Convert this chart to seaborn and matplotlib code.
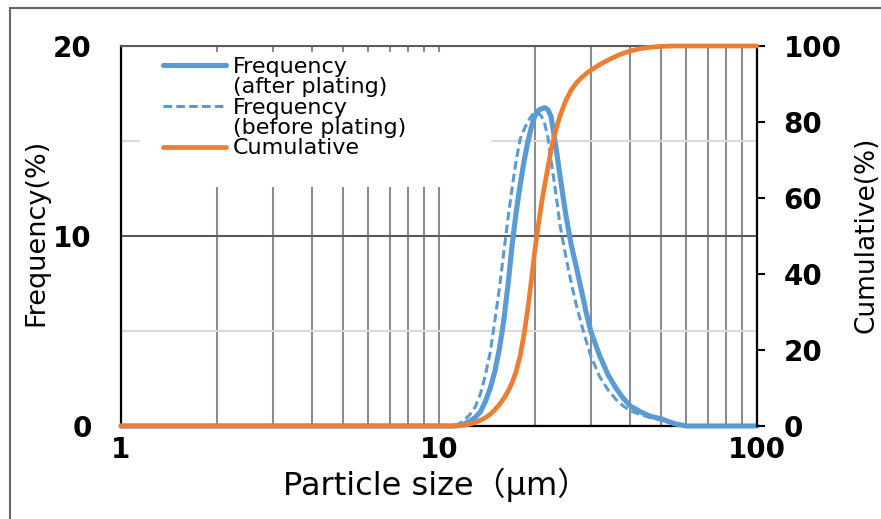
import matplotlib
matplotlib.use("Agg")
import matplotlib.pyplot as plt
import seaborn as sns
from matplotlib.lines import Line2D
from matplotlib.patches import Rectangle
from matplotlib.ticker import LogLocator, MultipleLocator, NullFormatter

# ---------------- data ----------------
particle_size_um = [1, 11, 11.5, 12, 12.5, 13, 13.5, 14, 14.5, 15, 15.5, 16, 16.5,
                    17, 17.5, 18, 18.5, 19, 19.5, 20, 20.5, 21, 21.5, 22, 22.5, 23,
                    23.5, 24, 25, 26, 27, 28, 29, 30, 32, 34, 36, 38, 40, 43, 46,
                    50, 55, 60, 100]
freq_after_plating = [0, 0, 0.02, 0.1, 0.25, 0.45, 0.75, 1.3, 2.0, 2.9, 4.1, 5.6, 7.5,
                      9.6, 11.3, 12.7, 13.9, 14.9, 15.7, 16.3, 16.6, 16.7, 16.75, 16.65,
                      16.3, 15.3, 14.3, 13.2, 11.2, 9.6, 8.4, 7.2, 6.0, 5.0, 3.7, 2.7,
                      2.0, 1.45, 1.05, 0.75, 0.52, 0.38, 0.12, 0, 0]
freq_before_plating = [0, 0, 0.1, 0.3, 0.6, 1.0, 1.7, 2.7, 3.9, 5.6, 7.3, 9.2, 11.0,
                       12.6, 14.0, 15.1, 15.6, 16.0, 16.3, 16.5, 16.5, 16.3, 15.9, 15.2,
                       14.0, 12.9, 11.8, 10.6, 9.0, 7.6, 6.4, 5.4, 4.5, 3.7, 2.6, 1.9,
                       1.4, 1.05, 0.8, 0.6, 0.45, 0.3, 0.1, 0, 0]
cumulative = [0, 0, 0.05, 0.2, 0.5, 0.9, 1.5, 2.2, 3.1, 4.3, 5.7, 7.3, 9.2, 11.5, 14.5,
              18.5, 24, 30.5, 38, 46, 52.5, 58.5, 63.5, 68, 72.5, 76, 79, 81.5, 85.5,
              88.3, 90.2, 91.6, 92.7, 93.6, 95.1, 96.3, 97.3, 98.1, 98.7, 99.3, 99.65,
              99.9, 100, 100, 100]

x_ticks = [1, 10, 100]
x_tick_labels = ["1", "10", "100"]
freq_ticks = [0, 10, 20]
cum_ticks = [0, 20, 40, 60, 80, 100]
legend_labels = ["Frequency", "(after plating)", "Frequency", "(before plating)", "Cumulative"]

BLUE = "#5B9BD5"
ORANGE = "#ED7D31"

sns.set_theme(style="white")
plt.rcParams["font.family"] = ["DejaVu Sans", "Noto Sans CJK JP"]
plt.rcParams["text.color"] = "black"

fig = plt.figure(figsize=(8.81, 5.19), dpi=100)
ax = fig.add_axes([121 / 881, 93 / 519, 636 / 881, 380 / 519])
ax2 = ax.twinx()
ax.set_xscale("log")

# frequency curves
sns.lineplot(x=particle_size_um, y=freq_after_plating, ax=ax, color=BLUE, lw=3.7,
             solid_capstyle="round", solid_joinstyle="round", clip_on=False, zorder=3)
sns.lineplot(x=particle_size_um, y=freq_before_plating, ax=ax, color=BLUE, lw=2.2,
             linestyle=(0, (2.8, 1.4)), clip_on=False, zorder=3.1)
# cumulative curve
sns.lineplot(x=particle_size_um, y=cumulative, ax=ax2, color=ORANGE, lw=3.4,
             solid_capstyle="round", solid_joinstyle="round", clip_on=False, zorder=3)

ax.set_xlim(1, 100)
ax.set_ylim(0, 20)
ax2.set_ylim(0, 100)

ax.set_xticks(x_ticks)
ax.set_xticklabels(x_tick_labels)
ax.xaxis.set_minor_locator(LogLocator(base=10, subs=range(2, 10)))
ax.xaxis.set_minor_formatter(NullFormatter())
ax.set_yticks(freq_ticks)
ax.yaxis.set_minor_locator(MultipleLocator(5))
ax2.set_yticks(cum_ticks)

ax.set_axisbelow(True)
ax.grid(which="both", axis="x", color="#8c8c8c", lw=1.5)
ax.grid(which="major", axis="y", color="#595959", lw=1.5)
ax.grid(which="minor", axis="y", color="#d9d9d9", lw=1.5)
ax2.grid(False)

TICK_FS = 20
ax.tick_params(axis="x", which="both", length=0, pad=7, labelsize=TICK_FS, labelcolor="black")
ax.tick_params(axis="y", which="both", length=0, pad=21, labelsize=TICK_FS, labelcolor="black")
ax2.tick_params(axis="y", which="major", length=6, width=1.5, direction="out", color="black",
                pad=13, labelsize=TICK_FS, labelcolor="black", right=True)
for lab in ax.get_xticklabels() + ax.get_yticklabels() + ax2.get_yticklabels():
    lab.set_fontweight("bold")

for name in ["left", "bottom", "right"]:
    ax.spines[name].set_visible(name != "right")
    ax.spines[name].set_color("black")
    ax.spines[name].set_linewidth(1.6)
ax.spines["top"].set_color("#595959")
ax.spines["top"].set_linewidth(1.5)
for name in ["left", "bottom", "top"]:
    ax2.spines[name].set_visible(False)
ax2.spines["right"].set_color("black")
ax2.spines["right"].set_linewidth(1.6)

# axis labels
ax.set_xlabel("Particle size（μm）", fontsize=23, color="black")
ax.xaxis.set_label_coords(0.495, -0.110)
ax.xaxis.label.set_va("top")
ax.set_ylabel("Frequency(%)", fontsize=19.5, color="black")
ax.yaxis.set_label_coords(-0.112, 0.51)
ax2.set_ylabel("Cumulative(%)", fontsize=19, color="black")
ax2.yaxis.set_label_coords(1.151, 0.503)

# white legend background (hides gridlines like the original)
ax.add_patch(Rectangle((0.030, 0.629), 0.552, 0.355, transform=ax.transAxes,
                       facecolor="white", edgecolor="none", zorder=1))

blank = Line2D([], [], linestyle="none")
handles = [Line2D([], [], color=BLUE, lw=3.7, solid_capstyle="round"), blank,
           Line2D([], [], color=BLUE, lw=2.2, linestyle=(0, (2.8, 1.4))), blank,
           Line2D([], [], color=ORANGE, lw=3.4, solid_capstyle="round")]
leg = ax2.legend(handles, legend_labels, loc="upper left", bbox_to_anchor=(0.066, 0.972),
                 bbox_transform=ax.transAxes, frameon=False, fontsize=16, borderpad=0,
                 borderaxespad=0, handlelength=2.84, handletextpad=0.32, labelspacing=0.02)
for t in leg.get_texts():
    t.set_color("black")

# outer frame of the picture
fig.add_artist(Rectangle((10 / 881, -0.1), 1.2, 0.1 + (519 - 8) / 519,
                         transform=fig.transFigure, fill=False, edgecolor="#666666", lw=1.5))

fig.savefig("out.png", dpi=100)
